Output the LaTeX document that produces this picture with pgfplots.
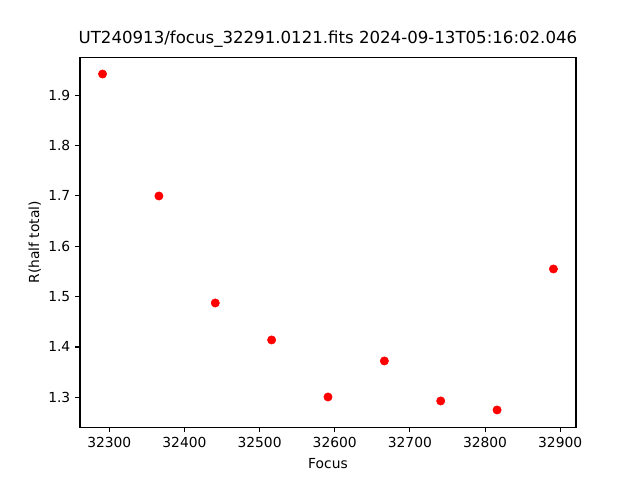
\documentclass[border=0pt]{standalone}
\usepackage{pgfplots}
\pgfplotsset{compat=1.18}
\usepackage{fontspec}
\setmainfont{DejaVu Sans}
\begin{document}
\begin{tikzpicture}
\path (-0.8in,-0.528in) rectangle (5.6in,4.272in);
\begin{axis}[
  scale only axis,
  width=4.96in, height=3.696in,
  at={(0,0)}, anchor=south west,
  xmin=32261, xmax=32921,
  ymin=1.2407, ymax=1.9744,
  xtick={32300,32400,...,32900},
  ytick={1.3,1.4,...,1.9},
  /pgf/number format/assume math mode=true,
  x tick label style={/pgf/number format/set thousands separator={}, font=\fontsize{10}{12}\selectfont},
  y tick label style={/pgf/number format/fixed, /pgf/number format/fixed zerofill, /pgf/number format/precision=1, font=\fontsize{10}{12}\selectfont},
  scaled ticks=false,
  tick align=outside,
  major tick length=3.5pt,
  every tick/.style={black, line width=0.8pt},
  axis line style={line width=0.8pt},
  xtick pos=bottom, ytick pos=left,
  xlabel={Focus}, ylabel={R(half total)},
  label style={font=\fontsize{10}{12}\selectfont},
  x label style={yshift=-1pt},
  y label style={yshift=-1.5pt},
  title={UT240913/focus\_32291.0121.fits 2024-09-13T05:16:02.046},
  title style={font=\fontsize{12}{14}\selectfont, yshift=-2pt},
]
\addplot[only marks, mark=*, mark size=3pt, color=red, mark options={fill=red, draw=red}] coordinates {
(32291,1.9418)
(32366,1.6997)
(32441,1.4873)
(32516,1.4139)
(32591,1.3007)
(32666,1.3722)
(32741,1.2928)
(32816,1.2749)
(32891,1.5548)
};
\end{axis}
\end{tikzpicture}
\end{document}
